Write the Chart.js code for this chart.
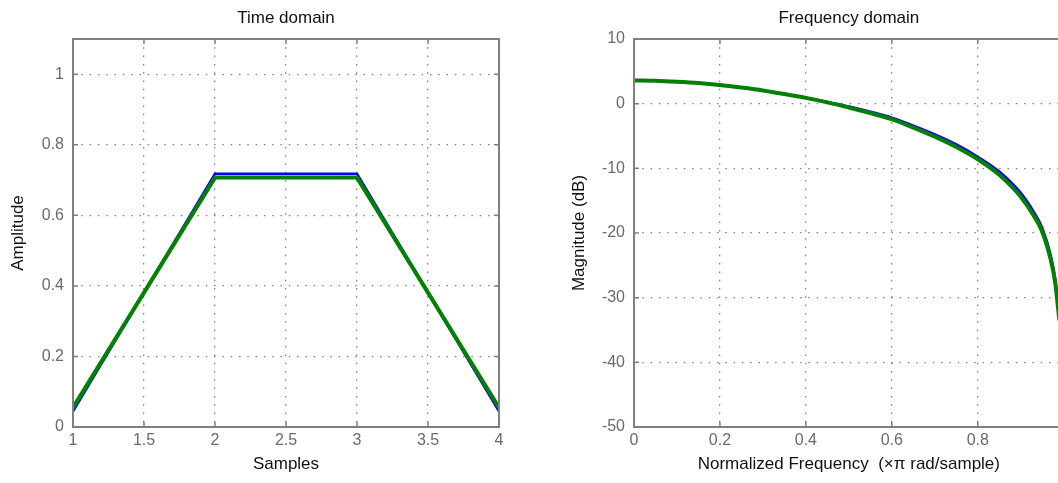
<!DOCTYPE html>
<html><head><meta charset="utf-8">
<script src="https://cdn.jsdelivr.net/npm/chart.js@4/dist/chart.umd.min.js"></script>
<style>
html,body{margin:0;padding:0;background:#fff;overflow:hidden;width:1058px;height:483px;}
#c1{position:absolute;left:0;top:0;}
#c2{position:absolute;left:540px;top:0;}
</style></head><body>
<canvas id="c1" width="530" height="483"></canvas>
<canvas id="c2" width="560" height="483"></canvas>
<script>
// ---- Time domain data ----
const timeSamples = [1, 2, 3, 4];
const timeBlue    = [0.044, 0.718, 0.718, 0.044];
const timeGreen   = [0.055, 0.707, 0.707, 0.055];
const timeXTicks  = [1, 1.5, 2, 2.5, 3, 3.5, 4];
const timeXLabels = ['1', '1.5', '2', '2.5', '3', '3.5', '4'];
const timeYTicks  = [0, 0.2, 0.4, 0.6, 0.8, 1];
const timeYLabels = ['0', '0.2', '0.4', '0.6', '0.8', '1'];

// ---- Frequency domain data ----
const freqX     = [0, 0.05, 0.1, 0.15, 0.2, 0.25, 0.3, 0.35, 0.4, 0.45, 0.5, 0.55, 0.6, 0.65, 0.7, 0.75, 0.8, 0.85, 0.9, 0.93, 0.95, 0.97, 0.98, 0.99];
const freqBlue  = [3.6, 3.55, 3.4, 3.2, 2.9, 2.5, 2.05, 1.5, 0.9, 0.25, -0.45, -1.25, -2.15, -3.4, -4.75, -6.3, -8.2, -10.5, -13.8, -16.7, -19.2, -23.5, -27.0, -33.0];
const freqGreen = [3.6, 3.55, 3.4, 3.2, 2.9, 2.5, 2.05, 1.5, 0.9, 0.2, -0.6, -1.45, -2.4, -3.7, -5.1, -6.7, -8.6, -11.0, -14.4, -17.3, -19.8, -24.2, -27.6, -33.5];
const freqXTicks  = [0, 0.2, 0.4, 0.6, 0.8, 1];
const freqXLabels = ['0', '0.2', '0.4', '0.6', '0.8', '1'];
const freqYTicks  = [-50, -40, -30, -20, -10, 0, 10];
const freqYLabels = ['-50', '-40', '-30', '-20', '-10', '0', '10'];

const FONT = "'Liberation Sans', Arial, Helvetica, sans-serif";
const BOX = '#7f7f7f';
const TICKC = '#6a6a6a';

const framePlugin = {
  id: 'frame',
  afterLayout(chart) {
    const t = chart.titleBlock, a = chart.chartArea;
    if (t && a) { t.left = a.left; t.right = a.right; t.width = a.right - a.left; }
  },
  afterDatasetsDraw(chart) {
    const {ctx, chartArea: a, scales: {x, y}} = chart;
    ctx.save();
    ctx.strokeStyle = BOX;
    ctx.lineWidth = 1.5;
    ctx.beginPath();
    const L = 5;
    x.ticks.forEach(t => {
      const px = x.getPixelForValue(t.value);
      ctx.moveTo(px, a.bottom); ctx.lineTo(px, a.bottom - L);
      ctx.moveTo(px, a.top); ctx.lineTo(px, a.top + L);
    });
    y.ticks.forEach(t => {
      const py = y.getPixelForValue(t.value);
      ctx.moveTo(a.left, py); ctx.lineTo(a.left + L, py);
      ctx.moveTo(a.right, py); ctx.lineTo(a.right - L, py);
    });
    ctx.stroke();
    ctx.lineWidth = 2;
    ctx.strokeRect(a.left, a.top, a.right - a.left, a.bottom - a.top);
    ctx.restore();
  }
};

function makeChart(id, cfg) {
  const pts = (xs, ys) => xs.map((v, i) => ({x: v, y: ys[i]}));
  return new Chart(document.getElementById(id), {
    type: 'line',
    data: {
      datasets: [
        {data: pts(cfg.xs, cfg.blue), borderColor: '#0000ff', borderWidth: 2.5, pointRadius: 0, fill: false, order: 2, tension: 0, cubicInterpolationMode: cfg.mono ? 'monotone' : 'default'},
        {data: pts(cfg.xs, cfg.green), borderColor: '#008000', borderWidth: 4, pointRadius: 0, fill: false, order: 1, tension: 0, cubicInterpolationMode: cfg.mono ? 'monotone' : 'default'}
      ]
    },
    options: {
      responsive: false,
      animation: false,
      devicePixelRatio: 1,
      layout: {padding: {left: 0, right: cfg.padRight, top: 0, bottom: 0}},
      plugins: {
        legend: {display: false},
        tooltip: {enabled: false},
        title: {display: true, text: cfg.title, color: '#111', font: {family: FONT, size: 17, weight: 'normal', lineHeight: 1.2}, padding: {top: 8, bottom: 10.6}}
      },
      scales: {
        x: {
          type: 'linear', min: cfg.xmin, max: cfg.xmax,
          afterBuildTicks: s => { s.ticks = cfg.xTicks.map(v => ({value: v})); },
          afterFit: s => { s.height = 56; },
          ticks: {color: TICKC, font: {family: FONT, size: 16}, padding: 4, maxRotation: 0, autoSkip: false,
            callback: (v) => { const i = cfg.xTicks.indexOf(v); return i >= 0 ? cfg.xLabels[i] : ''; }},
          grid: {color: '#808080', lineWidth: 1.3, drawTicks: false},
          border: {display: false, dash: [1.5, 6.8]},
          title: {display: true, text: cfg.xTitle, color: '#111', font: {family: FONT, size: 17, lineHeight: 1.2}, padding: {top: 0, bottom: 8.5}}
        },
        y: {
          type: 'linear', min: cfg.ymin, max: cfg.ymax,
          afterBuildTicks: s => { s.ticks = cfg.yTicks.map(v => ({value: v})); },
          afterFit: s => { s.width = cfg.yWidth; },
          ticks: {color: TICKC, font: {family: FONT, size: 16}, padding: 9, autoSkip: false,
            callback: (v) => { const i = cfg.yTicks.indexOf(v); return i >= 0 ? cfg.yLabels[i] : ''; }},
          grid: {color: '#808080', lineWidth: 1.3, drawTicks: false},
          border: {display: false, dash: [1.5, 6.8]},
          title: {display: true, text: cfg.yTitle, color: '#111', font: {family: FONT, size: 17, lineHeight: 1.2}, padding: {top: cfg.yTitlePad, bottom: 0}}
        }
      }
    },
    plugins: [framePlugin]
  });
}

makeChart('c1', {
  xs: timeSamples, blue: timeBlue, green: timeGreen, mono: false,
  title: 'Time domain', xTitle: 'Samples', yTitle: 'Amplitude',
  xmin: 1, xmax: 4, ymin: 0, ymax: 1.1,
  xTicks: timeXTicks, xLabels: timeXLabels, yTicks: timeYTicks, yLabels: timeYLabels,
  padRight: 31, yWidth: 73, yTitlePad: 8.3
});

makeChart('c2', {
  xs: freqX, blue: freqBlue, green: freqGreen, mono: true,
  title: 'Frequency domain', xTitle: 'Normalized Frequency  (\u00d7\u03c0 rad/sample)', yTitle: 'Magnitude (dB)',
  xmin: 0, xmax: 1, ymin: -50, ymax: 10,
  xTicks: freqXTicks, xLabels: freqXLabels, yTicks: freqYTicks, yLabels: freqYLabels,
  padRight: 36.3, yWidth: 94, yTitlePad: 28.8
});
</script>
</body></html>
